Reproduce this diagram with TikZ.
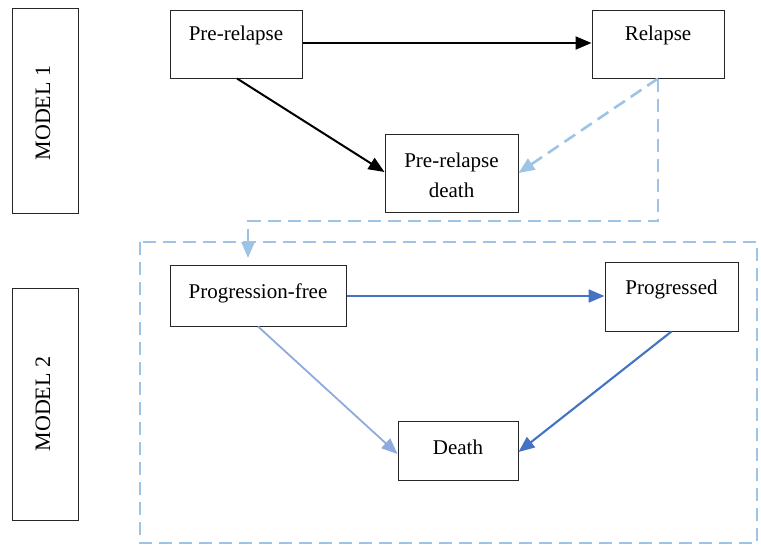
\documentclass[tikz,border=0pt]{standalone}
\usepackage{fontspec}
\setmainfont{Liberation Serif}
\usetikzlibrary{arrows.meta}
\definecolor{dblue}{HTML}{4472C4}
\definecolor{lblue}{HTML}{8FAADC}
\definecolor{dashblue}{HTML}{9DC3E6}
\begin{document}
\begin{tikzpicture}[x=1pt,y=-1pt,
  box/.style={draw=black!85, line width=1pt, rectangle, inner sep=0pt},
  lbl/.style={anchor=base, inner sep=0pt, font=\fontsize{21}{25}\selectfont},
  mlbl/.style={anchor=base, rotate=90, inner sep=0pt, font=\fontsize{22}{26}\selectfont},
  tip/.style={-{Triangle[length=16pt,width=13pt]}},
  blk/.style={tip, line width=2pt, black},
  dbl/.style={tip, line width=2.1pt, dblue},
  lbl2/.style={tip, line width=1.8pt, lblue},
  dsh/.style={line width=2.6pt, dashblue, dash pattern=on 13pt off 7pt}
]
\useasboundingbox (0,0) rectangle (761,547);
% model boxes
\node[box, minimum width=66pt, minimum height=205pt] (m1) at (45,110.5) {};
\node[mlbl] (m1t) at (50,113) {MODEL 1};
\node[box, minimum width=66pt, minimum height=232pt] (m2) at (45,404) {};
\node[mlbl] (m2t) at (50,404) {MODEL 2};
% model 1 states
\node[box, minimum width=132pt, minimum height=68pt] (pr) at (236,44) {};
\node[lbl] (prt) at (236,40) {Pre-relapse};
\node[box, minimum width=132pt, minimum height=68pt] (rl) at (658,44) {};
\node[lbl] (rlt) at (658,40) {Relapse};
\node[box, minimum width=133pt, minimum height=78pt] (pd) at (451.5,173) {};
\node[lbl] (pdt1) at (451.5,167) {Pre-relapse};
\node[lbl] (pdt2) at (451.5,197) {death};
% model 2 states
\node[box, minimum width=176pt, minimum height=61pt] (pf) at (258,295.5) {};
\node[lbl] (pft) at (258,298) {Progression-free};
\node[box, minimum width=133pt, minimum height=69pt] (pg) at (671.5,296.5) {};
\node[lbl] (pgt) at (671.5,294) {Progressed};
\node[box, minimum width=120pt, minimum height=59pt] (dt) at (458,450.5) {};
\node[lbl] (dtt) at (458,454) {Death};
% dashed frame
\draw[dsh] (140,242) rectangle (757,543);
% connectors model 1
\draw[blk] (pr.east |- 0,43) -- (rl.west |- 0,43);
\draw[blk] (pr.south) ++(1,0) -- (pd.west |- 0,172);
\draw[dsh, -{Triangle[length=16pt,width=13pt]}] (rl.south) -- (pd.east |- 0,173);
% dashed link to model 2
\coordinate (c1) at (658,221);
\coordinate (c2) at (248,221);
\coordinate (c3) at (248,258);
\draw[dsh] (rl.south) -- (c1) -- (c2) -- ++(0,21);
\draw[dashblue, line width=2.6pt, -{Triangle[length=16pt,width=13pt]}] (248,242) -- (c3);
% connectors model 2
\draw[dbl] (pf.east |- 0,296) -- (pg.west |- 0,296);
\draw[lbl2] (pf.south) -- (dt.west |- 0,454);
\draw[dbl] (pg.south) -- (dt.east |- 0,452);
\end{tikzpicture}
\end{document}
